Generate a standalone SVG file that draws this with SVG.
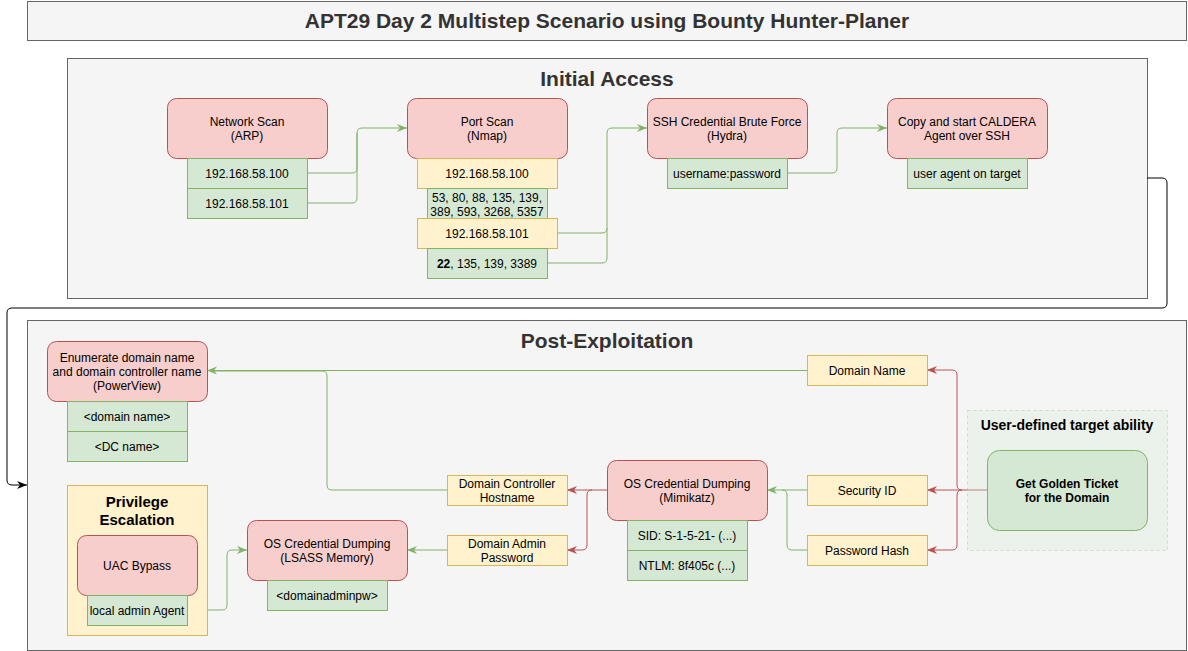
<svg xmlns="http://www.w3.org/2000/svg" width="1188" height="651" viewBox="0 0 1188 651">
<defs>
<style>
text{font-family:"Liberation Sans",Arial,sans-serif;font-size:12px;fill:#000;text-anchor:middle;dominant-baseline:central;transform:translateY(1px)}
.cont{fill:#f5f5f5;stroke:#666;stroke-width:1}
.ct{font-size:21px;font-weight:bold;fill:#333}
.red{fill:#f8cecc;stroke:#b85450;stroke-width:1}
.grn{fill:#d5e8d4;stroke:#82b366;stroke-width:1}
.yel{fill:#fff2cc;stroke:#d6b656;stroke-width:1}
.cg{fill:none;stroke:#82b366;stroke-width:1}
.cr{fill:none;stroke:#b85450;stroke-width:1}
.ck{fill:none;stroke:#000;stroke-width:1}
</style>
<marker id="ag" viewBox="0 0 10 10" refX="10" refY="5" markerWidth="10" markerHeight="10" markerUnits="userSpaceOnUse" orient="auto"><path d="M0,1 L10,5 L0,9 L3,5 Z" fill="#82b366"/></marker>
<marker id="ar" viewBox="0 0 10 10" refX="10" refY="5" markerWidth="10" markerHeight="10" markerUnits="userSpaceOnUse" orient="auto"><path d="M0,1 L10,5 L0,9 L3,5 Z" fill="#b85450"/></marker>
<marker id="ak" viewBox="0 0 10 10" refX="10" refY="5" markerWidth="10" markerHeight="10" markerUnits="userSpaceOnUse" orient="auto"><path d="M0,1 L10,5 L0,9 L3,5 Z" fill="#000"/></marker>
</defs>
<rect width="1188" height="651" fill="#fff"/>

<g id="title"><rect class="cont" x="27.5" y="1.5" width="1159" height="39"/><text class="ct" x="607" y="19">APT29 Day 2 Multistep Scenario using Bounty Hunter-Planer</text></g>

<g id="initial-access"><rect class="cont" x="67.5" y="58.5" width="1080" height="240"/><text class="ct" x="607" y="77">Initial Access</text></g>
<g id="post-exploitation"><rect class="cont" x="27.5" y="320.5" width="1159" height="330"/><text class="ct" x="607" y="339">Post-Exploitation</text></g>

<g id="connectors">
<path class="cg" d="M307,173 H352 Q357,173 357,168 V133 Q357,128 362,128 H407" marker-end="url(#ag)"/>
<path class="cg" d="M307,203 H352 Q357,203 357,198 V133"/>
<path class="cg" d="M557,233 H602 Q607,233 607,228 V133 Q607,128 612,128 H647" marker-end="url(#ag)"/>
<path class="cg" d="M547,263 H602 Q607,263 607,258 V228"/>
<path class="cg" d="M787,173 H832 Q837,173 837,168 V133 Q837,128 842,128 H887" marker-end="url(#ag)"/>
<path class="ck" d="M1147,178 H1162 Q1167,178 1167,183 V303 Q1167,308 1162,308 H12 Q7,308 7,313 V480 Q7,485 12,485 H27" marker-end="url(#ak)"/>
<path class="cg" d="M807,370.5 H207" marker-end="url(#ag)"/>
<path class="cg" d="M447,490 H332 Q327,490 327,485 V376 Q327,371 322,371 H210"/>
<path class="cr" d="M987,490 H962 Q957,490 957,485 V375 Q957,370 952,370 H927" marker-end="url(#ar)"/>
<path class="cr" d="M962,490 H927" marker-end="url(#ar)"/>
<path class="cr" d="M962,490 Q957,490 957,495 V545 Q957,550 952,550 H927" marker-end="url(#ar)"/>
<path class="cg" d="M807,490 H767" marker-end="url(#ag)"/>
<path class="cg" d="M807,550 H792 Q787,550 787,545 V495 Q787,490 782,490"/>
<path class="cr" d="M607,490 H567" marker-end="url(#ar)"/>
<path class="cr" d="M592,490 Q587,490 587,495 V545 Q587,550 582,550 H567" marker-end="url(#ar)"/>
<path class="cg" d="M447,550 H407" marker-end="url(#ag)"/>
<path class="cg" d="M187,610 H222 Q227,610 227,605 V555 Q227,550 232,550 H247" marker-end="url(#ag)"/>
</g>

<g id="network-scan"><rect class="red" x="167.5" y="98.5" width="160" height="60" rx="9"/><text x="247" y="121">Network Scan</text><text x="247" y="135">(ARP)</text></g>
<g id="ns-ip100"><rect class="grn" x="187.5" y="158.5" width="120" height="30"/><text x="247" y="173">192.168.58.100</text></g>
<g id="ns-ip101"><rect class="grn" x="187.5" y="188.5" width="120" height="30"/><text x="247" y="203">192.168.58.101</text></g>

<g id="port-scan"><rect class="red" x="407.5" y="98.5" width="160" height="60" rx="9"/><text x="487" y="121">Port Scan</text><text x="487" y="135">(Nmap)</text></g>
<g id="ps-ip100"><rect class="yel" x="417.5" y="158.5" width="140" height="30"/><text x="487" y="173">192.168.58.100</text></g>
<g id="ps-ports100"><rect class="grn" x="427.5" y="188.5" width="120" height="30"/><text x="487" y="196.5">53, 80, 88, 135, 139,</text><text x="487" y="210.5">389, 593, 3268, 5357</text></g>
<g id="ps-ip101"><rect class="yel" x="417.5" y="218.5" width="140" height="30"/><text x="487" y="233">192.168.58.101</text></g>
<g id="ps-ports101"><rect class="grn" x="427.5" y="248.5" width="120" height="30"/><text x="487" y="263"><tspan font-weight="bold">22</tspan>, 135, 139, 3389</text></g>

<g id="ssh-brute"><rect class="red" x="647.5" y="98.5" width="160" height="60" rx="9"/><text x="727" y="121">SSH Credential Brute Force</text><text x="727" y="135">(Hydra)</text></g>
<g id="ssh-cred"><rect class="grn" x="667.5" y="158.5" width="120" height="30"/><text x="727" y="173">username:password</text></g>

<g id="caldera"><rect class="red" x="887.5" y="98.5" width="160" height="60" rx="9"/><text x="967" y="121">Copy and start CALDERA</text><text x="967" y="135">Agent over SSH</text></g>
<g id="caldera-agent"><rect class="grn" x="907.5" y="158.5" width="120" height="30"/><text x="967" y="173">user agent on target</text></g>

<g id="enumerate"><rect class="red" x="47.5" y="341.5" width="160" height="60" rx="9"/><text x="127" y="357">Enumerate domain name</text><text x="127" y="371">and domain controller name</text><text x="127" y="385">(PowerView)</text></g>
<g id="enum-domain"><rect class="grn" x="67.5" y="401.5" width="120" height="30"/><text x="127" y="416">&lt;domain name&gt;</text></g>
<g id="enum-dc"><rect class="grn" x="67.5" y="431.5" width="120" height="30"/><text x="127" y="446">&lt;DC name&gt;</text></g>

<g id="privilege-escalation"><rect class="yel" x="67.5" y="485.5" width="140" height="150"/><text x="137" y="500" style="font-size:15px;font-weight:bold">Privilege</text><text x="137" y="518" style="font-size:15px;font-weight:bold">Escalation</text></g>
<g id="uac-bypass"><rect class="red" x="77.5" y="535.5" width="120" height="60" rx="9"/><text x="137" y="565">UAC Bypass</text></g>
<g id="uac-agent"><rect class="grn" x="87.5" y="595.5" width="100" height="30"/><text x="137" y="610">local admin Agent</text></g>

<g id="lsass"><rect class="red" x="247.5" y="520.5" width="160" height="60" rx="9"/><text x="327" y="543">OS Credential Dumping</text><text x="327" y="557">(LSASS Memory)</text></g>
<g id="lsass-pw"><rect class="grn" x="267.5" y="580.5" width="120" height="30"/><text x="327" y="595">&lt;domainadminpw&gt;</text></g>

<g id="dc-hostname"><rect class="yel" x="447.5" y="475.5" width="120" height="30"/><text x="507" y="483">Domain Controller</text><text x="507" y="497">Hostname</text></g>
<g id="da-password"><rect class="yel" x="447.5" y="535.5" width="120" height="30"/><text x="507" y="543">Domain Admin</text><text x="507" y="557">Password</text></g>

<g id="mimikatz"><rect class="red" x="607.5" y="460.5" width="160" height="60" rx="9"/><text x="687" y="483">OS Credential Dumping</text><text x="687" y="497">(Mimikatz)</text></g>
<g id="mimi-sid"><rect class="grn" x="627.5" y="520.5" width="120" height="30"/><text x="687" y="535">SID: S-1-5-21- (...)</text></g>
<g id="mimi-ntlm"><rect class="grn" x="627.5" y="550.5" width="120" height="30"/><text x="687" y="565">NTLM: 8f405c (...)</text></g>

<g id="domain-name"><rect class="yel" x="807.5" y="355.5" width="120" height="30"/><text x="867" y="370">Domain Name</text></g>
<g id="security-id"><rect class="yel" x="807.5" y="475.5" width="120" height="30"/><text x="867" y="490">Security ID</text></g>
<g id="password-hash"><rect class="yel" x="807.5" y="535.5" width="120" height="30"/><text x="867" y="550">Password Hash</text></g>

<g id="target-ability"><rect x="967.5" y="410.5" width="200" height="140" fill="#d5e8d4" fill-opacity="0.3" stroke="#82b366" stroke-opacity="0.3" stroke-dasharray="3,3"/><text x="1067" y="424" style="font-size:14px;font-weight:bold">User-defined target ability</text></g>
<g id="golden-ticket"><rect class="grn" x="987.5" y="450.5" width="160" height="80" rx="12"/><text x="1067" y="483" font-weight="bold">Get Golden Ticket</text><text x="1067" y="497" font-weight="bold">for the Domain</text></g>
</svg>
